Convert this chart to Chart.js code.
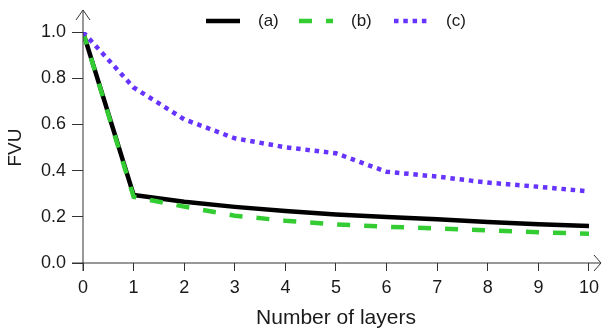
<!DOCTYPE html>
<html>
<head>
<meta charset="utf-8">
<script src="https://cdn.jsdelivr.net/npm/chart.js@4/dist/chart.umd.min.js"></script>
<style>
  html, body { margin: 0; padding: 0; background: #fff; }
  #wrap { width: 605px; height: 331px; }
</style>
</head>
<body>
<div id="wrap"><canvas id="fvuChart"></canvas></div>
<script>
const layers = [0, 1, 2, 3, 4, 5, 6, 7, 8, 9, 10];
const fvuA = [1.0, 0.295, 0.265, 0.243, 0.225, 0.21, 0.199, 0.189, 0.178, 0.168, 0.16];
const fvuB = [1.0, 0.287, 0.244, 0.205, 0.183, 0.167, 0.157, 0.15, 0.141, 0.133, 0.127];
const fvuC = [1.0, 0.76, 0.622, 0.54, 0.501, 0.475, 0.395, 0.374, 0.348, 0.33, 0.31];
const seriesNames = ['(a)', '(b)', '(c)'];
const yTicks = [0, 0.2, 0.4, 0.6, 0.8, 1.0];

const axisColor = '#333';
const textColor = '#1a1a1a';
const fontFamily = '"Liberation Sans", Arial, Helvetica, sans-serif';

function toPoints(ys) {
    return layers.map((x, i) => ({ x: x, y: ys[i] }));
}

// axis lines with arrow heads, running past the plot area
const arrowAxes = {
    id: 'arrowAxes',
    afterDraw(chart) {
        const { ctx, scales } = chart;
        const x0 = scales.x.getPixelForValue(0);
        const x10 = scales.x.getPixelForValue(10);
        const y0 = scales.y.getPixelForValue(0);
        const y1 = scales.y.getPixelForValue(1);
        const tipY = y1 - 22;
        const tipX = x10 + 12;
        ctx.save();
        ctx.strokeStyle = axisColor;
        ctx.lineWidth = 1;
        ctx.beginPath();
        // y axis
        ctx.moveTo(x0, y0 + 8);
        ctx.lineTo(x0, tipY);
        ctx.moveTo(x0 - 7, tipY + 10);
        ctx.lineTo(x0, tipY);
        ctx.lineTo(x0 + 7, tipY + 10);
        // x axis
        ctx.moveTo(x0 - 11, y0);
        ctx.lineTo(tipX, y0);
        ctx.moveTo(tipX - 7, y0 - 8);
        ctx.lineTo(tipX, y0);
        ctx.lineTo(tipX - 7, y0 + 8);
        ctx.stroke();
        ctx.restore();
    }
};

// legend row at the top, drawn from the dataset styles
const topLegend = {
    id: 'topLegend',
    afterDraw(chart) {
        const ctx = chart.ctx;
        const slots = [206, 299, 394];
        const y = 21;
        ctx.save();
        chart.data.datasets.forEach((ds, i) => {
            const x = slots[i];
            ctx.beginPath();
            ctx.strokeStyle = ds.borderColor;
            ctx.lineWidth = ds.borderWidth;
            ctx.setLineDash(ds.borderDash || []);
            ctx.lineCap = 'butt';
            ctx.moveTo(x, y);
            ctx.lineTo(x + 34, y);
            ctx.stroke();
            ctx.setLineDash([]);
            ctx.fillStyle = textColor;
            ctx.font = '17px ' + fontFamily;
            ctx.textBaseline = 'middle';
            ctx.textAlign = 'left';
            ctx.fillText(ds.label, x + 52, y);
        });
        ctx.restore();
    }
};

const ctx = document.getElementById('fvuChart').getContext('2d');
const fvuChart = new Chart(ctx, {
    type: 'line',
    data: {
        datasets: [
            {
                label: seriesNames[0],
                data: toPoints(fvuA),
                borderColor: '#000000',
                borderWidth: 4.5,
                pointRadius: 0,
                tension: 0,
                fill: false,
                order: 3
            },
            {
                label: seriesNames[1],
                data: toPoints(fvuB),
                borderColor: '#33cc33',
                borderWidth: 4.5,
                borderDash: [13, 14],
                pointRadius: 0,
                tension: 0,
                fill: false,
                order: 2
            },
            {
                label: seriesNames[2],
                data: toPoints(fvuC),
                borderColor: '#6633ff',
                borderWidth: 4.5,
                borderDash: [4.5, 4.8],
                pointRadius: 0,
                tension: 0,
                fill: false,
                order: 1
            }
        ]
    },
    options: {
        responsive: true,
        maintainAspectRatio: false,
        animation: false,
        layout: { padding: { top: 32, right: 14, left: 0, bottom: 0 } },
        plugins: {
            legend: { display: false },
            tooltip: { enabled: false }
        },
        scales: {
            x: {
                type: 'linear',
                min: 0,
                max: 10,
                afterFit: s => { s.height = 68; },
                afterBuildTicks: s => { s.ticks = layers.map(v => ({ value: v })); },
                ticks: {
                    color: textColor,
                    font: { size: 18, family: fontFamily },
                    padding: 6,
                    maxRotation: 0
                },
                grid: { drawOnChartArea: false, drawTicks: true, tickLength: 8, color: axisColor },
                border: { display: false },
                title: {
                    display: true,
                    text: 'Number of layers',
                    color: textColor,
                    font: { size: 21, family: fontFamily },
                    padding: { top: 0, bottom: 0 }
                }
            },
            y: {
                min: 0,
                max: 1,
                afterFit: s => { s.width = 83; },
                afterBuildTicks: s => { s.ticks = yTicks.map(v => ({ value: v })); },
                ticks: {
                    color: textColor,
                    font: { size: 18, family: fontFamily },
                    padding: 6,
                    callback: v => v.toFixed(1)
                },
                grid: { drawOnChartArea: false, drawTicks: true, tickLength: 11, color: axisColor },
                border: { display: false },
                title: {
                    display: true,
                    text: 'FVU',
                    color: textColor,
                    font: { size: 19, family: fontFamily },
                    padding: { top: 4, bottom: 0 }
                }
            }
        }
    },
    plugins: [arrowAxes, topLegend]
});
</script>
</body>
</html>
